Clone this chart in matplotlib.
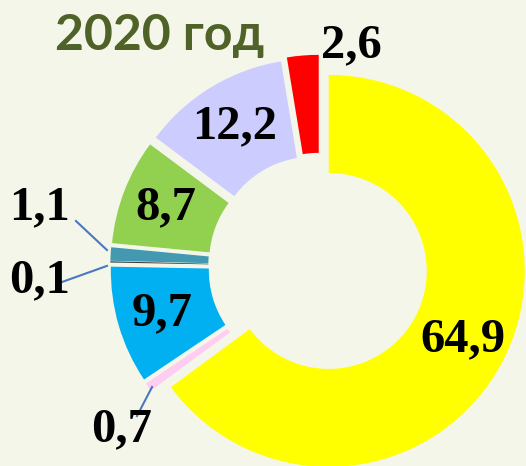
import numpy as np
import matplotlib.pyplot as plt

# shares, %, clockwise from the top
values = [64.9, 0.7, 9.7, 0.1, 1.1, 8.7, 12.2, 2.6]
labels = ['64,9', '0,7', '9,7', '0,1', '1,1', '8,7', '12,2', '2,6']
colors = ['#ffff00', '#ffccf2', '#00b0f0', '#3a3a3a', '#4399b0', '#92d050', '#ccccff', '#ff0000']
explode = [0.05, 0.07, 0.07, 0.07, 0.07, 0.07, 0.07, 0.08]
inside = [True, False, True, False, False, True, True, False]

# label spots for the small slices (data units, relative to chart centre)
outside_pos = {1: (-1.01, -0.83), 3: (-1.43, -0.07), 4: (-1.43, 0.30), 7: (0.16, 1.13)}
leader = {1: ((-0.934, -0.763), (-0.857, -0.615)),
          3: ((-1.316, -0.079), (-1.087, 0.003)),
          4: ((-1.245, 0.232), (-1.087, 0.084))}

bg = '#f4f6ea'
fig = plt.figure(figsize=(5.26, 4.66), dpi=100, facecolor=bg)
ax = fig.add_axes([0, 0, 1, 1])
ax.set_facecolor(bg)

wedges, _ = ax.pie(values, colors=colors, explode=explode, startangle=90,
                   counterclock=False, radius=1.0,
                   wedgeprops=dict(width=0.5, linewidth=0))

font = dict(family='Liberation Serif', weight='bold', size=35, color='black')
for i, w in enumerate(wedges):
    mid = np.deg2rad((w.theta1 + w.theta2) / 2)
    if inside[i]:
        r = 0.77 + explode[i]
        ax.text(r * np.cos(mid), r * np.sin(mid), labels[i], ha='center', va='center', **font)
    else:
        x, y = outside_pos[i]
        ax.text(x, y, labels[i], ha='center', va='center', **font)
    if i in leader:
        (x0, y0), (x1, y1) = leader[i]
        ax.plot([x0, x1], [y0, y1], color='#4a78c0', lw=1.5)

ax.text(-0.82, 1.18, '2020 год', ha='center', va='center', fontsize=36,
        fontweight='bold', family='Lato', color='#4f6228')

# pixel-matched window: centre at (320, 266.5) px, radius 196 px
R, cx, cy = 196, 320, 266.5
ax.set_xlim(-cx / R, (526 - cx) / R)
ax.set_ylim(-(466 - cy) / R, cy / R)
ax.set_aspect('equal')
ax.axis('off')

fig.savefig('out.png', dpi=100, facecolor=bg)
